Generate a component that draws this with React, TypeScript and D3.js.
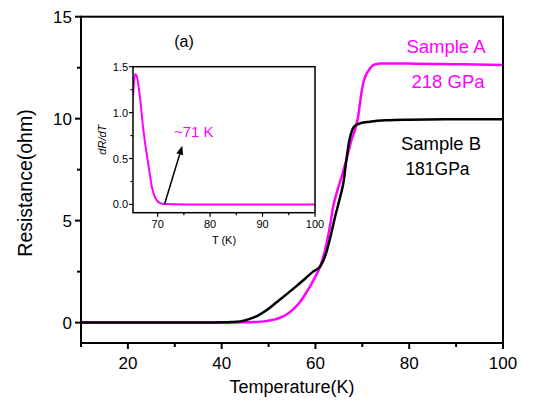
import React from "react";
import * as d3 from "d3";

// ---- data ----
const sampleA_T = [10, 20, 30, 40, 44, 47, 49, 50.5, 52, 53.5, 55, 56.5, 58, 59.5, 61, 62, 63, 63.8, 64.7, 65.6, 66.6, 67.7, 68.5, 69.1, 69.8, 70.3, 70.9, 71.6, 72.3, 73.7, 80, 90, 100];
const sampleA_R = [0, 0, 0, 0, 0.01, 0.03, 0.06, 0.12, 0.2, 0.35, 0.6, 0.95, 1.45, 2.05, 2.75, 3.5, 4.6, 5.7, 6.5, 7.16, 7.98, 8.96, 9.5, 10.1, 11.25, 11.85, 12.2, 12.45, 12.63, 12.71, 12.7, 12.67, 12.63];
const sampleB_T = [10, 30, 38, 42, 44, 46, 48, 50, 52, 54, 56, 58, 59.5, 61, 62.4, 63.3, 64.2, 65.2, 66, 66.6, 67.2, 67.7, 68.2, 69.5, 71.6, 75, 80, 90, 100];
const sampleB_R = [0, 0, 0.01, 0.03, 0.06, 0.18, 0.38, 0.68, 1.05, 1.42, 1.8, 2.2, 2.5, 2.75, 3.5, 4.3, 5.2, 6.1, 6.9, 7.98, 8.9, 9.35, 9.6, 9.77, 9.85, 9.92, 9.95, 9.97, 9.97];
const inset_T = [65.3, 65.7, 66.0, 66.7, 67.2, 67.6, 68.3, 68.9, 69.4, 69.9, 70.5, 71.3, 75, 80, 90, 100];
const inset_D = [1.17, 1.42, 1.4, 1.13, 0.85, 0.67, 0.41, 0.19, 0.09, 0.04, 0.015, 0.005, 0, 0, 0, 0];
const mainXTicks = [20, 40, 60, 80, 100];
const mainXMinor = [10, 30, 50, 70, 90];
const mainYTicks = [0, 5, 10, 15];
const mainYMinor = [2.5, 7.5, 12.5];
const insetXTicks = [70, 80, 90, 100];
const insetXMinor = [75, 85, 95];
const insetYTicks = [0, 0.5, 1.0, 1.5];
const insetYMinor = [0.25, 0.75, 1.25];
const arrowFrom = [71.3, 0.0];
const arrowTo = [74.7, 0.64];

const MAGENTA = "#ff00ff";
const FONT = "'Liberation Sans', Arial, sans-serif";

export default function App() {
  const x = d3.scaleLinear().domain([10, 100]).range([81, 503]);
  const y = d3.scaleLinear().domain([-1, 15]).range([343, 16.7]);
  const ix = d3.scaleLinear().domain([65.3, 100]).range([133, 315]);
  const iy = d3.scaleLinear().domain([-0.09, 1.5]).range([212.7, 66.7]);

  const line = d3.line<[number, number]>().x((d) => x(d[0])).y((d) => y(d[1])).curve(d3.curveMonotoneX);
  const iline = d3.line<[number, number]>().x((d) => ix(d[0])).y((d) => iy(d[1])).curve(d3.curveMonotoneX);

  const dataA = sampleA_T.map((t, i) => [t, sampleA_R[i]] as [number, number]);
  const dataB = sampleB_T.map((t, i) => [t, sampleB_R[i]] as [number, number]);
  const dataI = inset_T.map((t, i) => [t, inset_D[i]] as [number, number]);

  // arrow
  const ax0 = ix(arrowFrom[0]), ay0 = iy(arrowFrom[1]);
  const ax1 = ix(arrowTo[0]), ay1 = iy(arrowTo[1]);
  const ang = Math.atan2(ay1 - ay0, ax1 - ax0);
  const hl = 9, hw = 3.5;
  const bx = ax1 - hl * Math.cos(ang), by = ay1 - hl * Math.sin(ang);
  const head = `M${ax1},${ay1}L${bx - hw * Math.sin(ang)},${by + hw * Math.cos(ang)}L${bx + hw * Math.sin(ang)},${by - hw * Math.cos(ang)}Z`;

  const [xl, xr] = x.range();
  const [yb, yt] = y.range();
  const [ixl, ixr] = ix.range();
  const [iyb, iyt] = iy.range();

  return (
    <svg width={548} height={408} style={{ position: "absolute", left: 0, top: 0, background: "#fff" }} fontFamily={FONT}>
      <rect x={0} y={0} width={548} height={408} fill="#fff" />
      <defs>
        <clipPath id="mainclip">
          <rect x={xl} y={yt} width={xr - xl} height={yb - yt} />
        </clipPath>
        <clipPath id="insetclip">
          <rect x={ixl} y={iyt} width={ixr - ixl} height={iyb - iyt} />
        </clipPath>
      </defs>

      {/* main curves */}
      <g clipPath="url(#mainclip)">
        <path d={line(dataA) || ""} fill="none" stroke={MAGENTA} strokeWidth={2.5} />
        <path d={line(dataB) || ""} fill="none" stroke="#000" strokeWidth={2.5} />
      </g>

      {/* main frame */}
      <rect x={xl} y={yt} width={xr - xl} height={yb - yt} fill="none" stroke="#000" strokeWidth={2} />

      {/* main x ticks */}
      {mainXTicks.map((t) => (
        <g key={"mx" + t}>
          <line x1={x(t)} x2={x(t)} y1={yb} y2={yb + 6} stroke="#000" strokeWidth={2} />
          <text x={x(t)} y={yb + 26} textAnchor="middle" fontSize={17}>{t}</text>
        </g>
      ))}
      {mainXMinor.map((t) => (
        <line key={"mxm" + t} x1={x(t)} x2={x(t)} y1={yb} y2={yb + 4} stroke="#000" strokeWidth={2} />
      ))}
      {/* main y ticks */}
      {mainYTicks.map((t) => (
        <g key={"my" + t}>
          <line x1={xl - 6} x2={xl} y1={y(t)} y2={y(t)} stroke="#000" strokeWidth={2} />
          <text x={xl - 9} y={y(t) + 6} textAnchor="end" fontSize={17}>{t}</text>
        </g>
      ))}
      {mainYMinor.map((t) => (
        <line key={"mym" + t} x1={xl - 4} x2={xl} y1={y(t)} y2={y(t)} stroke="#000" strokeWidth={2} />
      ))}
      <text x={(xl + xr) / 2} y={393} textAnchor="middle" fontSize={18}>Temperature(K)</text>
      <text transform={`translate(32,183) rotate(-90)`} textAnchor="middle" fontSize={19.5}>Resistance(ohm)</text>

      {/* labels */}
      <text x={184} y={47} textAnchor="middle" fontSize={16}>(a)</text>
      <text x={446} y={52.7} textAnchor="middle" fontSize={18.5} fill={MAGENTA}>Sample A</text>
      <text x={448} y={88.3} textAnchor="middle" fontSize={18.5} fill={MAGENTA}>218 GPa</text>
      <text x={441} y={150} textAnchor="middle" fontSize={18.5} fill="#000">Sample B</text>
      <text x={437.5} y={175} textAnchor="middle" fontSize={17.5} fill="#000">181GPa</text>

      {/* inset */}
      <rect x={ixl} y={iyt} width={ixr - ixl} height={iyb - iyt} fill="#fff" stroke="none" />
      <g clipPath="url(#insetclip)">
        <path d={iline(dataI) || ""} fill="none" stroke={MAGENTA} strokeWidth={2} />
      </g>
      <rect x={ixl} y={iyt} width={ixr - ixl} height={iyb - iyt} fill="none" stroke="#000" strokeWidth={1.5} />
      {insetXTicks.map((t) => (
        <g key={"ix" + t}>
          <line x1={ix(t)} x2={ix(t)} y1={iyb} y2={iyb + 4} stroke="#000" strokeWidth={1.2} />
          <text x={ix(t)} y={iyb + 15} textAnchor="middle" fontSize={11}>{t}</text>
        </g>
      ))}
      {insetXMinor.map((t) => (
        <line key={"ixm" + t} x1={ix(t)} x2={ix(t)} y1={iyb} y2={iyb + 2.5} stroke="#000" strokeWidth={1.2} />
      ))}
      {insetYTicks.map((t) => (
        <g key={"iy" + t}>
          <line x1={ixl - 4} x2={ixl} y1={iy(t)} y2={iy(t)} stroke="#000" strokeWidth={1.2} />
          <text x={ixl - 5} y={iy(t) + 4} textAnchor="end" fontSize={11}>{d3.format(".1f")(t)}</text>
        </g>
      ))}
      {insetYMinor.map((t) => (
        <line key={"iym" + t} x1={ixl - 2.5} x2={ixl} y1={iy(t)} y2={iy(t)} stroke="#000" strokeWidth={1.2} />
      ))}
      <text x={(ixl + ixr) / 2} y={244} textAnchor="middle" fontSize={11}>T (K)</text>
      <text transform={`translate(106,${(iyt + iyb) / 2}) rotate(-90)`} textAnchor="middle" fontSize={11} fontStyle="italic">dR/dT</text>

      {/* arrow + annotation */}
      <line x1={ax0} y1={ay0} x2={bx} y2={by} stroke="#000" strokeWidth={1.5} />
      <path d={head} fill="#000" />
      <text x={174} y={137} fontSize={15} fill={MAGENTA}>~71 K</text>
    </svg>
  );
}
